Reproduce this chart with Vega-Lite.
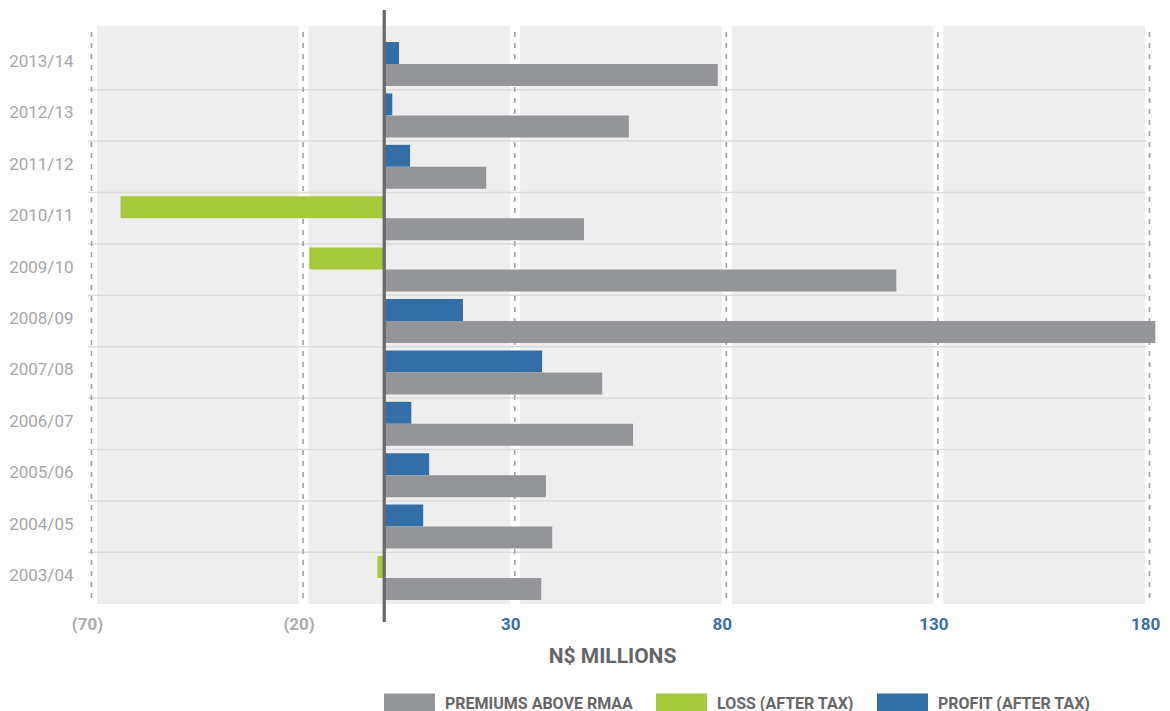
{
  "$schema": "https://vega.github.io/schema/vega-lite/v6.json",
  "width": 1058,
  "height": 578,
  "autosize": {"type": "none"},
  "padding": {"left": 88, "top": 26, "right": 24, "bottom": 107},
  "background": "white",
  "config": {
    "font": "Roboto",
    "view": {"fill": "#eeeeee", "stroke": null},
    "axisX": {
      "labelExpr": "datum.value < 0 ? '(' + abs(datum.value) + ')' : datum.label",
      "labelColor": {"condition": {"test": "datum.value < 0", "value": "#ababab"}, "value": "#3a70a6"},
      "labelFontSize": 17, "labelFontWeight": "bold", "labelPadding": 12, "labelOffset": -1, "labelFlush": false,
      "domain": false, "ticks": false, "grid": false,
      "titleFontSize": 21, "titleFontWeight": "bold", "titleColor": "#656565", "titlePadding": 13,
      "titleX": 524, "titleAlign": "center"
    },
    "axisY": {
      "domain": false, "ticks": false, "grid": false,
      "labelFontSize": 17, "labelColor": "#a6a6a6", "labelPadding": 15, "labelOffset": -2
    }
  },
  "datasets": {
    "results": [
      {"year": "2013/14", "series": "Profit (after tax)", "measure": "Net result", "value": 3.5},
      {"year": "2013/14", "series": "Premiums above RMAA", "measure": "Premiums", "value": 78.8},
      {"year": "2012/13", "series": "Profit (after tax)", "measure": "Net result", "value": 1.9},
      {"year": "2012/13", "series": "Premiums above RMAA", "measure": "Premiums", "value": 57.8},
      {"year": "2011/12", "series": "Profit (after tax)", "measure": "Net result", "value": 6.1},
      {"year": "2011/12", "series": "Premiums above RMAA", "measure": "Premiums", "value": 24.1},
      {"year": "2010/11", "series": "Loss (after tax)", "measure": "Net result", "value": -62.3},
      {"year": "2010/11", "series": "Premiums above RMAA", "measure": "Premiums", "value": 47.2},
      {"year": "2009/10", "series": "Loss (after tax)", "measure": "Net result", "value": -17.7},
      {"year": "2009/10", "series": "Premiums above RMAA", "measure": "Premiums", "value": 121.0},
      {"year": "2008/09", "series": "Profit (after tax)", "measure": "Net result", "value": 18.6},
      {"year": "2008/09", "series": "Premiums above RMAA", "measure": "Premiums", "value": 182.2},
      {"year": "2007/08", "series": "Profit (after tax)", "measure": "Net result", "value": 37.3},
      {"year": "2007/08", "series": "Premiums above RMAA", "measure": "Premiums", "value": 51.5},
      {"year": "2006/07", "series": "Profit (after tax)", "measure": "Net result", "value": 6.4},
      {"year": "2006/07", "series": "Premiums above RMAA", "measure": "Premiums", "value": 58.8},
      {"year": "2005/06", "series": "Profit (after tax)", "measure": "Net result", "value": 10.6},
      {"year": "2005/06", "series": "Premiums above RMAA", "measure": "Premiums", "value": 38.2},
      {"year": "2004/05", "series": "Profit (after tax)", "measure": "Net result", "value": 9.2},
      {"year": "2004/05", "series": "Premiums above RMAA", "measure": "Premiums", "value": 39.7},
      {"year": "2003/04", "series": "Loss (after tax)", "measure": "Net result", "value": -1.6},
      {"year": "2003/04", "series": "Premiums above RMAA", "measure": "Premiums", "value": 37.1}
    ],
    "gridValues": [
      {"value": -70}, {"value": -20}, {"value": 30}, {"value": 80}, {"value": 130}, {"value": 180}
    ],
    "origin": [{"value": 0}]
  },
  "layer": [
    {
      "data": {"name": "gridValues"},
      "mark": {"type": "rule", "color": "#ffffff", "strokeWidth": 10, "xOffset": 4},
      "encoding": {
        "x": {"field": "value", "type": "quantitative", "title": "N$ MILLIONS", "scale": {"domain": [-70, 180], "nice": false, "zero": false}, "axis": {"values": [-70, -20, 30, 80, 130, 180]}}
      }
    },
    {
      "data": {"name": "results"},
      "transform": [{"filter": "datum.measure === 'Premiums' && datum.year !== '2013/14'"}],
      "mark": {"type": "rule", "color": "#dadada", "strokeWidth": 1.5},
      "encoding": {
        "y": {
          "field": "year", "type": "nominal", "bandPosition": -0.084, "title": null,
          "scale": {"domain": ["2013/14", "2012/13", "2011/12", "2010/11", "2009/10", "2008/09", "2007/08", "2006/07", "2005/06", "2004/05", "2003/04"], "range": [12.3, 577.7], "paddingInner": 0.144, "paddingOuter": 0.072}
        }
      }
    },
    {
      "data": {"name": "gridValues"},
      "mark": {"type": "rule", "color": "#a0a0a0", "strokeWidth": 1.6, "strokeDash": [5, 6], "strokeDashOffset": 5, "xOffset": 3.5},
      "encoding": {
        "x": {"field": "value", "type": "quantitative", "title": "N$ MILLIONS", "scale": {"domain": [-70, 180], "nice": false, "zero": false}, "axis": {"values": [-70, -20, 30, 80, 130, 180]}}
      }
    },
    {
      "data": {"name": "results"},
      "mark": {"type": "bar"},
      "encoding": {
        "y": {
          "field": "year", "type": "nominal", "title": null,
          "scale": {"domain": ["2013/14", "2012/13", "2011/12", "2010/11", "2009/10", "2008/09", "2007/08", "2006/07", "2005/06", "2004/05", "2003/04"], "range": [12.3, 577.7], "paddingInner": 0.144, "paddingOuter": 0.072}
        },
        "yOffset": {"field": "measure", "type": "nominal", "scale": {"domain": ["Net result", "Premiums"]}},
        "x": {
          "field": "value", "type": "quantitative", "title": "N$ MILLIONS",
          "scale": {"domain": [-70, 180], "nice": false, "zero": false},
          "axis": {"values": [-70, -20, 30, 80, 130, 180]}
        },
        "x2": {"datum": 0},
        "color": {
          "field": "series", "type": "nominal",
          "scale": {"domain": ["Premiums above RMAA", "Loss (after tax)", "Profit (after tax)"], "range": ["#939598", "#a5c938", "#336fa7"]},
          "legend": {
            "orient": "none", "legendX": 311.5, "legendY": 667.5, "direction": "horizontal", "title": null,
            "symbolType": "M-2.55,-1H2.55V1H-2.55Z", "symbolSize": 400, "symbolStrokeWidth": 0, "symbolOpacity": 1,
            "labelFontSize": 16, "labelFontWeight": "bold", "labelColor": "#666666", "labelOffset": 25.5, "labelLimit": 400,
            "columnPadding": 22, "padding": 0, "labelExpr": "upper(datum.label)"
          }
        }
      }
    },
    {
      "data": {"name": "origin"},
      "mark": {"type": "rule", "color": "#6a6a6a", "strokeWidth": 3.3},
      "encoding": {
        "x": {"field": "value", "type": "quantitative", "title": "N$ MILLIONS", "scale": {"domain": [-70, 180], "nice": false, "zero": false}, "axis": {"values": [-70, -20, 30, 80, 130, 180]}},
        "y": {"value": -16},
        "y2": {"value": 596}
      }
    }
  ]
}
